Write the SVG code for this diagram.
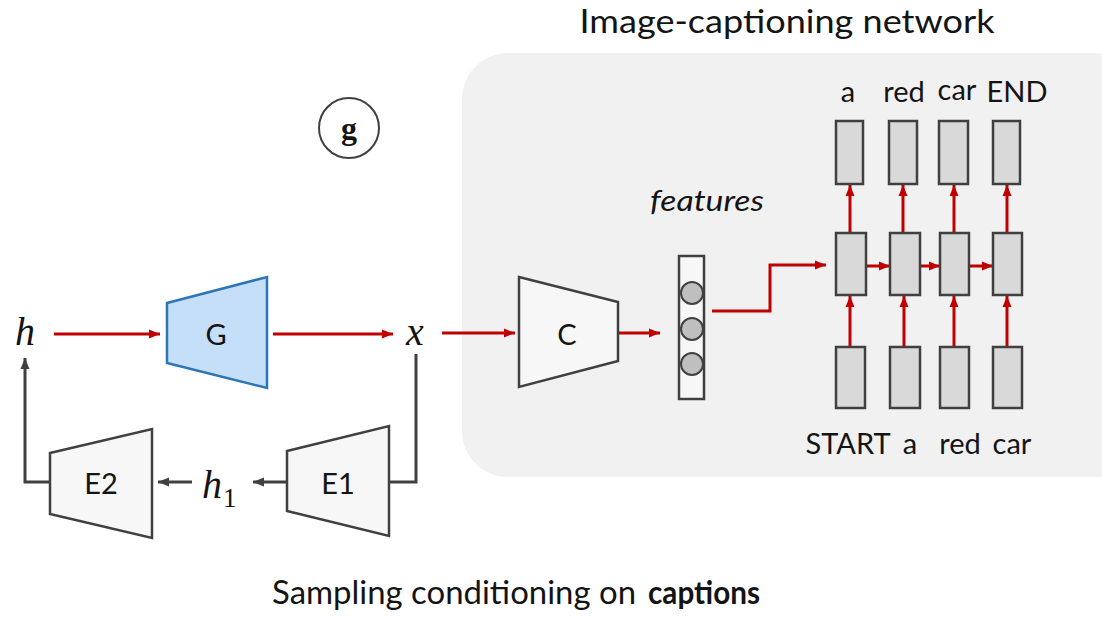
<svg xmlns="http://www.w3.org/2000/svg" width="1102" height="627" viewBox="0 0 1102 627">
  <style>
    .lbl { font-family: Lato, "Open Sans", "Liberation Sans", sans-serif; fill: #141414; }
    .math { font-family: "Liberation Serif", "DejaVu Serif", serif; font-style: italic; fill: #141414; }
    .trap { fill: #f7f7f7; stroke: #404040; stroke-width: 2.5; stroke-linejoin: miter; }
    .cell { fill: #d9d9d9; stroke: #404040; stroke-width: 2.5; }
    .red { fill: none; stroke: #c00000; stroke-width: 3; }
    .dark { fill: none; stroke: #404040; stroke-width: 3; }
  </style>
  <defs>
    <marker id="ar" markerUnits="userSpaceOnUse" markerWidth="14" markerHeight="12" refX="11" refY="6" orient="auto">
      <path d="M0,1.5 L11,6 L0,10.5 Z" fill="#c00000"/>
    </marker>
    <marker id="ad" markerUnits="userSpaceOnUse" markerWidth="14" markerHeight="12" refX="11" refY="6" orient="auto">
      <path d="M0,1.5 L11,6 L0,10.5 Z" fill="#404040"/>
    </marker>
  </defs>

  <rect width="1102" height="627" fill="#ffffff"/>

  <!-- captioning panel -->
  <g id="panel">
    <rect x="462" y="53" width="680" height="424" rx="46" ry="46" fill="#f1f1f1"/>
    <text class="lbl" x="787" y="33" font-size="33" text-anchor="middle" textLength="415" lengthAdjust="spacingAndGlyphs">Image-captioning network</text>
  </g>

  <!-- panel tag -->
  <g id="tag">
    <circle cx="349" cy="128" r="30" fill="#ffffff" stroke="#404040" stroke-width="2"/>
    <text x="349" y="139" font-family="'Liberation Serif', serif" font-weight="bold" font-size="32" text-anchor="middle" fill="#141414">g</text>
  </g>

  <!-- connectors -->
  <g id="connectors">
    <line class="red" x1="54" y1="334" x2="160" y2="334" marker-end="url(#ar)"/>
    <line class="red" x1="273" y1="334" x2="393" y2="334" marker-end="url(#ar)"/>
    <line class="red" x1="442" y1="333" x2="515" y2="333" marker-end="url(#ar)"/>
    <line class="red" x1="618" y1="333" x2="660" y2="333" marker-end="url(#ar)"/>
    <polyline class="red" points="712,311 770,311 770,265 826,265" marker-end="url(#ar)"/>
    <!-- recurrent links -->
    <line class="red" x1="866" y1="266" x2="890" y2="266" marker-end="url(#ar)"/>
    <line class="red" x1="920" y1="266" x2="940" y2="266" marker-end="url(#ar)"/>
    <line class="red" x1="969" y1="266" x2="993" y2="266" marker-end="url(#ar)"/>
    <!-- hidden to output -->
    <line class="red" x1="850" y1="233" x2="850" y2="185" marker-end="url(#ar)"/>
    <line class="red" x1="903" y1="233" x2="903" y2="185" marker-end="url(#ar)"/>
    <line class="red" x1="954" y1="233" x2="954" y2="185" marker-end="url(#ar)"/>
    <line class="red" x1="1007" y1="233" x2="1007" y2="185" marker-end="url(#ar)"/>
    <!-- input to hidden -->
    <line class="red" x1="850" y1="347" x2="850" y2="296" marker-end="url(#ar)"/>
    <line class="red" x1="904" y1="347" x2="904" y2="296" marker-end="url(#ar)"/>
    <line class="red" x1="954" y1="347" x2="954" y2="296" marker-end="url(#ar)"/>
    <line class="red" x1="1007" y1="347" x2="1007" y2="296" marker-end="url(#ar)"/>
    <!-- encoder loop -->
    <polyline class="dark" points="416,354 416,482 389,482"/>
    <line class="dark" x1="287" y1="482" x2="253" y2="482" marker-end="url(#ad)"/>
    <line class="dark" x1="192" y1="482" x2="158" y2="482" marker-end="url(#ad)"/>
    <polyline class="dark" points="50,482 25,482 25,358" marker-end="url(#ad)"/>
  </g>

  <!-- variables -->
  <g id="h">
    <text class="math" x="25" y="345" font-size="40" text-anchor="middle">h</text>
  </g>
  <g id="x">
    <text class="math" x="415" y="345" font-size="40" text-anchor="middle">x</text>
  </g>
  <g id="h1">
    <text class="math" x="202" y="498" font-size="40">h</text>
    <text x="223" y="507" font-family="'Liberation Serif', serif" font-size="27" fill="#141414">1</text>
  </g>

  <!-- generator -->
  <g id="G">
    <polygon points="167,303 267,277 267,388 167,363" fill="#c5dff8" stroke="#2e75b6" stroke-width="2.5"/>
    <text class="lbl" x="216" y="345" font-size="29" text-anchor="middle">G</text>
  </g>

  <!-- encoders -->
  <g id="E1">
    <polygon class="trap" points="287,451 389,426 389,536 287,511"/>
    <text class="lbl" x="338" y="494" font-size="29" text-anchor="middle">E1</text>
  </g>
  <g id="E2">
    <polygon class="trap" points="50,453 152,429 152,538 50,514"/>
    <text class="lbl" x="101" y="494" font-size="29" text-anchor="middle">E2</text>
  </g>

  <!-- classifier -->
  <g id="C">
    <polygon class="trap" points="519,277 618,302 618,361 519,387"/>
    <text class="lbl" x="567" y="345" font-size="29" text-anchor="middle">C</text>
  </g>

  <!-- feature vector -->
  <g id="features">
    <text class="lbl" x="707" y="211" font-size="28" font-style="italic" text-anchor="middle" textLength="114" lengthAdjust="spacingAndGlyphs">features</text>
    <rect x="679" y="256" width="25" height="143" fill="#f7f7f7" stroke="#404040" stroke-width="2.5"/>
    <circle cx="692" cy="293" r="11" fill="#bfbfbf" stroke="#404040" stroke-width="2"/>
    <circle cx="692" cy="329" r="11" fill="#bfbfbf" stroke="#404040" stroke-width="2"/>
    <circle cx="692" cy="364" r="11" fill="#bfbfbf" stroke="#404040" stroke-width="2"/>
  </g>

  <!-- recurrent decoder: output row -->
  <g id="out-row">
    <rect class="cell" x="836" y="121" width="27" height="63"/>
    <rect class="cell" x="889" y="121" width="28" height="63"/>
    <rect class="cell" x="939" y="121" width="29" height="63"/>
    <rect class="cell" x="993" y="121" width="27" height="63"/>
    <text class="lbl" x="848" y="102" font-size="29" text-anchor="middle">a</text>
    <text class="lbl" x="904" y="102" font-size="29" text-anchor="middle">red</text>
    <text class="lbl" x="957" y="100" font-size="29" text-anchor="middle">car</text>
    <text class="lbl" x="1017" y="102" font-size="29" text-anchor="middle">END</text>
  </g>

  <!-- recurrent decoder: hidden row -->
  <g id="hidden-row">
    <rect class="cell" x="836" y="233" width="30" height="62"/>
    <rect class="cell" x="890" y="233" width="30" height="62"/>
    <rect class="cell" x="940" y="233" width="29" height="62"/>
    <rect class="cell" x="993" y="233" width="29" height="62"/>
  </g>

  <!-- recurrent decoder: input row -->
  <g id="in-row">
    <rect class="cell" x="836" y="347" width="29" height="61"/>
    <rect class="cell" x="890" y="347" width="30" height="61"/>
    <rect class="cell" x="940" y="347" width="29" height="61"/>
    <rect class="cell" x="993" y="347" width="29" height="61"/>
    <text class="lbl" x="848" y="454" font-size="29" text-anchor="middle">START</text>
    <text class="lbl" x="910" y="454" font-size="29" text-anchor="middle">a</text>
    <text class="lbl" x="960" y="454" font-size="29" text-anchor="middle">red</text>
    <text class="lbl" x="1012" y="454" font-size="29" text-anchor="middle">car</text>
  </g>

  <!-- caption -->
  <g id="caption">
    <text class="lbl" x="272" y="604" font-size="33" textLength="364" lengthAdjust="spacingAndGlyphs">Sampling conditioning on</text>
    <text class="lbl" x="648" y="604" font-size="33" font-weight="bold" textLength="112" lengthAdjust="spacingAndGlyphs">captions</text>
  </g>
</svg>
